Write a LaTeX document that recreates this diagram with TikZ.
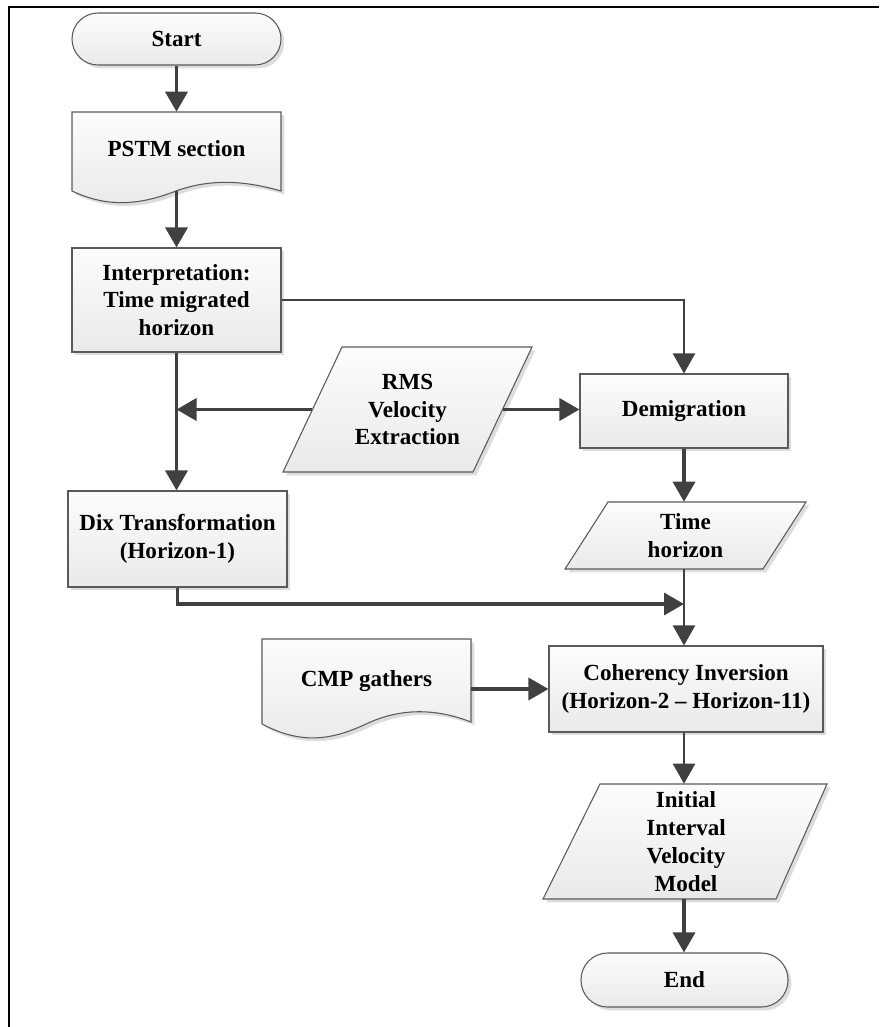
\documentclass[tikz,border=0pt]{standalone}
\usepackage{fontspec}
\setmainfont{Liberation Serif}
\usetikzlibrary{arrows.meta,shadows,backgrounds}
\definecolor{lcol}{HTML}{404040}
\definecolor{bcol}{HTML}{5A5A5A}
\begin{document}
\begin{tikzpicture}[x=0.75pt,y=-0.75pt,
  txt/.style={font=\fontsize{17.3}{20.8}\selectfont\bfseries, align=center, inner sep=0pt},
  fillshape/.style={draw=bcol, line width=0.8pt, top color=gray!2, bottom color=gray!17,
    drop shadow={shadow xshift=2.5pt, shadow yshift=-2.5pt, fill=gray!45, opacity=0.6}},
  box/.style={txt, fillshape},
  term/.style={box, rounded corners=19.5pt},
  arr/.style={draw=lcol, line width=2.6pt, -{Triangle[length=15pt,width=16.5pt]}},
  thinarr/.style={arr, line width=1.7pt},
  frameline/.style={draw=black, line width=1.6pt}
]
\useasboundingbox (0,0) rectangle (879,1027);
\draw[frameline] (9,1027) -- (9,7) -- (879,7);

% nodes
\node[term, minimum width={209*0.75pt}, minimum height={52*0.75pt}] (start) at (176.5,39) {Start};
\node[txt, minimum width={209*0.75pt}, minimum height={79*0.75pt}] (pstm) at (176.5,151.5) {\raisebox{4.5pt}{PSTM section}};
\node[box, minimum width={209*0.75pt}, minimum height={104*0.75pt}] (interp) at (176.5,300) {Interpretation:\\Time migrated\\horizon};
\node[txt, minimum width={190*0.75pt}, minimum height={125*0.75pt}] (rms) at (407.5,409.5) {RMS\\Velocity\\Extraction};
\node[box, minimum width={208*0.75pt}, minimum height={74*0.75pt}] (demig) at (684,411) {Demigration};
\node[box, minimum width={219*0.75pt}, minimum height={96*0.75pt}] (dix) at (177.5,539) {Dix Transformation\\(Horizon-1)};
\node[txt, minimum width={198*0.75pt}, minimum height={67*0.75pt}] (th) at (685.5,535.5) {Time\\horizon};
\node[txt, minimum width={209*0.75pt}, minimum height={85*0.75pt}] (cmp) at (366.5,681.5) {\raisebox{3pt}{CMP gathers}};
\node[box, minimum width={274*0.75pt}, minimum height={86*0.75pt}] (coh) at (686,689) {Coherency Inversion\\(Horizon-2 -- Horizon-11)};
\node[txt, minimum width={230*0.75pt}, minimum height={115*0.75pt}] (init) at (686,841.5) {Initial\\Interval\\Velocity\\Model};
\node[term, minimum width={207*0.75pt}, minimum height={54*0.75pt}, rounded corners=20pt] (end) at (684.5,980) {End};
\coordinate (join) at (684,604);

% shapes behind the text
\begin{pgfonlayer}{background}
  \path[fillshape] (72,112) -- (281,112) -- (281,191)
     .. controls (246,181) and (212,178) .. (176,191)
     .. controls (140,205) and (108,208) .. (72,191) -- cycle;
  \path[fillshape] (342,347) -- (532,347) -- (473,472) -- (283,472) -- cycle;
  \path[fillshape] (608,502) -- (806,502) -- (763,569) -- (565,569) -- cycle;
  \path[fillshape] (262,639) -- (471,639) -- (471,722)
     .. controls (435,708) and (400,708) .. (366,724)
     .. controls (330,741) and (300,744) .. (262,724) -- cycle;
  \path[fillshape] (600,784) -- (827,784) -- (776,899) -- (543,899) -- cycle;
\end{pgfonlayer}

% connectors
\draw[arr] (start.south) -- (pstm.north);
\draw[arr] (pstm.south) -- (interp.north);
\draw[thinarr] (interp.east) -| (demig.north);
\draw[arr] (interp.south) -- (interp.south |- dix.north);
\draw[arr] (rms.west) -- (rms.west -| interp.south);
\draw[arr] (rms.east) -- (rms.east -| demig.west);
\draw[arr] (demig.south) -- (demig.south |- th.north);
\draw[arr] (dix.south) |- (join);
\draw[thinarr] (demig.south |- th.south) -- (demig.south |- coh.north);
\draw[arr] (cmp.east |- coh.west) -- (coh.west);
\draw[thinarr] (demig.south |- coh.south) -- (demig.south |- init.north);
\draw[arr] (demig.south |- init.south) -- (demig.south |- end.north);
\end{tikzpicture}
\end{document}
